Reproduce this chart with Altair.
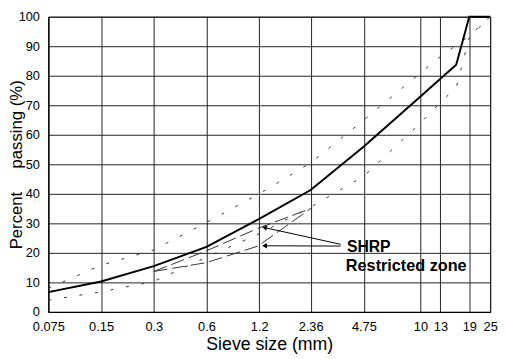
import altair as alt
import pandas as pd

# ---- data ----
tick_values = [0.075, 0.15, 0.3, 0.6, 1.2, 2.36, 4.75, 10, 13, 19, 25]
y_ticks = [0, 10, 20, 30, 40, 50, 60, 70, 80, 90, 100]

grad_sieve = [0.075, 0.15, 0.3, 0.6, 1.2, 2.36, 4.75, 10, 13, 16, 19, 25]
grad_pass = [6.7, 10.3, 15.5, 22, 31.5, 41.3, 56, 73, 79, 83.7, 100, 100]

upper_sieve = [0.075, 0.15, 0.3, 0.6, 1.2, 2.36, 4.75, 10, 13, 19, 25]
upper_pass = [8, 15.8, 21, 30.3, 40, 50.5, 65, 81, 86.5, 93.5, 100]

lower_sieve = [0.075, 0.15, 0.3, 0.6, 1.2, 2.36, 4.75, 10, 13, 16, 19, 25]
lower_pass = [4, 6.8, 10.3, 18.5, 26.5, 35.5, 46, 64, 71, 76, 93, 100]

rz_sieve = [0.3, 0.6, 1.18, 2.36]
rz_upper = [13.7, 20.7, 28.3, 35.0]
rz_lower = [13.7, 16.7, 22.3, 35.0]

arrow_x0 = [3.5, 3.5]
arrow_y0 = [22.9, 22.3]
arrow_x1 = [1.3, 1.3]
arrow_y1 = [28.5, 22.4]
arrow_angle = [283, 270]

label_text = ["SHRP", "Restricted zone"]
label_x = [3.8, 3.75]
label_y = [20.3, 13.7]
label_size = [16, 16.5]

FONT = "Liberation Sans"

grad_df = pd.DataFrame({"sieve": grad_sieve, "pct": grad_pass})
upper_df = pd.DataFrame({"sieve": upper_sieve, "pct": upper_pass})
lower_df = pd.DataFrame({"sieve": lower_sieve, "pct": lower_pass})
rz_df = pd.concat([
    pd.DataFrame({"sieve": rz_sieve, "pct": rz_upper, "edge": "upper"}),
    pd.DataFrame({"sieve": rz_sieve, "pct": rz_lower, "edge": "lower"}),
])
arrow_lines = pd.DataFrame({
    "sieve": arrow_x0 + arrow_x1,
    "pct": arrow_y0 + arrow_y1,
    "arrow": [0, 1, 0, 1],
    "order": [0, 0, 1, 1],
})
arrow_heads = pd.DataFrame({"sieve": arrow_x1, "pct": arrow_y1, "ang": arrow_angle})
labels_df = pd.DataFrame({"text": label_text, "sieve": label_x, "pct": label_y, "size": label_size})

x_enc = alt.X(
    "sieve:Q",
    scale=alt.Scale(type="log", domain=[0.075, 25], nice=False),
    axis=alt.Axis(
        values=tick_values,
        labelExpr="toString(datum.value)",
        title="Sieve size (mm)",
        grid=True,
        ticks=False,
        labelPadding=9,
        titlePadding=2,
        titleFontSize=18,
        labelFlush=False,
        labelOverlap=False,
    ),
)
y_enc = alt.Y(
    "pct:Q",
    scale=alt.Scale(domain=[0, 100], nice=False),
    axis=alt.Axis(
        values=y_ticks,
        title="Percent\u00a0\u00a0\u00a0\u00a0\u00a0passing (%)",
        grid=True,
        ticks=False,
        labelPadding=9,
        titlePadding=-7,
        titleFontSize=17,
        labelOverlap=False,
    ),
)

grad = alt.Chart(grad_df).mark_line(color="black", strokeWidth=2).encode(x=x_enc, y=y_enc)
upper = alt.Chart(upper_df).mark_line(color="#333", strokeWidth=1, strokeDash=[3, 13]).encode(x=x_enc, y=y_enc)
lower = alt.Chart(lower_df).mark_line(color="#333", strokeWidth=1, strokeDash=[3, 13]).encode(x=x_enc, y=y_enc)
rz = alt.Chart(rz_df).mark_line(color="#333", strokeWidth=1, strokeDash=[14, 5]).encode(
    x=x_enc, y=y_enc, detail="edge:N"
)
arrows = alt.Chart(arrow_lines).mark_line(color="black", strokeWidth=1).encode(
    x=x_enc, y=y_enc, detail="arrow:N", order="order:Q"
)
heads = alt.Chart(arrow_heads).mark_point(shape="triangle", filled=True, color="black", size=30, opacity=1).encode(
    x=x_enc, y=y_enc, angle=alt.Angle("ang:Q", scale=None)
)
texts = alt.Chart(labels_df).mark_text(
    align="left", baseline="alphabetic", font=FONT, fontWeight="bold", color="black"
).encode(x=x_enc, y=y_enc, text="text:N", size=alt.Size("size:Q", scale=None))

chart = alt.layer(grad, upper, lower, rz, arrows, heads, texts).properties(
    width=449,
    height=300,
    autosize=alt.AutoSizeParams(type="none"),
    padding={"left": 41, "top": 6, "right": 10, "bottom": 44},
).configure_view(
    stroke="black", strokeWidth=1
).configure_axis(
    labelFont=FONT,
    titleFont=FONT,
    labelFontSize=13,
    titleFontWeight="normal",
    labelColor="black",
    titleColor="black",
    gridColor="#222",
    gridWidth=1,
    gridOpacity=1,
    domainColor="black",
)

chart.save("out.html", embed_options={"renderer": "svg", "actions": False})
